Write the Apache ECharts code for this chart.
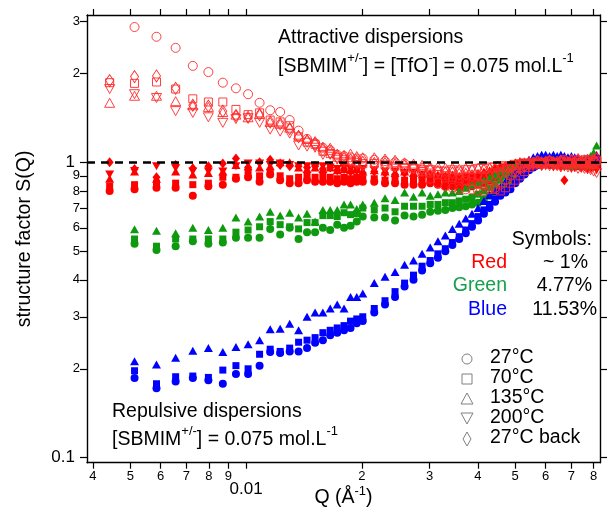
<!DOCTYPE html>
<html><head><meta charset="utf-8">
<script src="https://cdn.jsdelivr.net/npm/echarts@6.0.0/dist/echarts.min.js"></script>
<style>html,body{margin:0;padding:0;background:#fff}#c{width:611px;height:509px}</style>
</head><body><div id="c"></div><script>
// ---- data ----
const Q = [0.00442,0.00513,0.00585,0.00656,0.00727,0.00798,0.00870,0.00941,0.01012,0.01084,
0.01155,0.01226,0.01298,0.01369,0.01440,0.01511,0.01583,0.01654,0.01725,0.01797,
0.01868,0.01939,0.02010,0.02153,0.02296,0.02438,0.02581,0.02723,0.02866,0.03009,
0.03151,0.03294,0.03436,0.03579,0.03722,0.03864,0.04007,0.04149,0.04292,0.04435,
0.04577,0.04720,0.04862,0.05005,0.05148,0.05290,0.05433,0.05575,0.05718,0.05861,
0.06003,0.06146,0.06288,0.06431,0.06574,0.06716,0.06859,0.07001,0.07144,0.07287,
0.07429,0.07572,0.07714,0.07857,0.08000,0.08142];

// Red, ~1 %, attractive (open symbols)
const redOpen27 = [null,2.87,2.66,2.44,2.12,2.02,1.86,1.78,1.70,1.59,
1.50,1.48,1.39,1.28,1.20,1.16,1.12,1.10,1.06,1.05,
1.04,1.03,1.03,1.02,1.01,1.00,0.99,0.97,0.93,0.88,
0.85,0.83,0.82,0.81,0.81,0.81,0.80,0.80,0.81,0.82,
0.84,0.87,0.90,0.93,0.95,0.97,0.99,1.00,1.01,0.99,
1.00,1.01,1.00,0.99,1.01,1.02,1.00,0.99,1.00,1.01,
1.00,1.02,1.00,0.99,1.01,1.03];
const redOpen70 = [1.86,1.85,1.87,1.77,1.64,1.60,1.60,1.51,1.45,1.47,
1.39,1.37,1.33,1.22,1.17,1.15,1.09,1.07,1.04,1.02,
1.01,1.00,0.99,0.99,0.98,0.97,0.96,0.95,0.93,0.92,
0.91,0.90,0.89,0.88,0.87,0.86,0.85,0.84,0.83,0.81,
0.80,0.82,0.85,0.87,0.90,0.93,0.96,0.98,0.99,1.00,
0.99,1.01,1.00,0.98,1.00,1.01,0.99,1.00,1.02,1.00,
0.99,1.01,1.00,1.02,1.00,1.01];
const redOpen135 = [1.59,1.68,1.68,1.61,1.56,1.54,1.48,1.45,1.42,1.46,
1.37,1.35,1.31,1.24,1.20,1.18,1.13,1.12,1.07,1.06,
1.07,1.05,1.04,1.04,1.03,1.02,1.00,0.99,0.98,0.97,
0.97,0.96,0.96,0.95,0.96,0.95,0.96,0.95,0.96,0.96,
0.97,0.96,0.97,0.98,0.99,1.00,1.01,1.00,1.02,1.01,
1.00,1.02,1.01,1.00,1.02,1.01,1.00,1.03,1.01,1.00,
1.02,1.01,1.03,1.00,1.02,1.04];
const redOpen200 = [1.77,1.70,1.65,1.49,1.47,1.42,1.36,1.40,1.41,1.36,
1.29,1.27,1.25,1.14,1.13,1.12,1.06,1.06,1.02,1.00,
0.99,0.98,0.97,0.97,0.96,0.96,0.95,0.95,0.94,0.94,
0.93,0.93,0.94,0.93,0.94,0.94,0.95,0.95,0.96,0.96,
0.97,0.96,0.97,0.98,0.98,0.99,0.98,0.99,0.98,0.97,
0.98,0.97,0.98,0.97,0.96,0.97,0.96,0.97,0.96,0.95,
0.96,0.95,0.95,0.94,0.93,0.92];
const redOpen27back = [1.89,1.95,1.96,1.78,1.56,1.55,1.49,1.44,1.42,1.45,
1.37,1.35,1.30,1.22,1.18,1.15,1.10,1.08,1.04,1.03,
1.02,1.01,1.00,0.99,0.99,0.98,0.97,0.96,0.95,0.94,
0.93,0.92,0.92,0.91,0.91,0.90,0.90,0.89,0.90,0.91,
0.92,0.93,0.94,0.95,0.96,0.97,0.98,0.99,1.00,0.99,
1.00,1.01,0.99,1.00,1.01,1.00,0.99,1.01,1.00,1.02,
1.00,0.99,1.01,1.00,1.02,1.00];

// Red, ~1 %, repulsive (filled symbols)
const red27 = [0.80,0.81,0.82,0.82,0.77,0.83,0.84,0.88,0.89,0.86,
0.91,0.87,0.85,0.85,0.87,0.86,0.86,0.86,0.85,0.86,
0.85,0.86,0.86,0.86,0.85,0.85,0.84,0.84,0.84,0.85,
0.84,0.83,0.83,0.82,0.83,0.83,0.84,0.85,0.87,0.89,
0.92,0.94,0.95,0.96,0.97,0.98,0.99,0.98,0.99,1.00,
0.99,0.98,1.00,0.99,0.98,0.99,1.00,0.98,0.99,0.97,
0.99,0.98,0.97,0.99,0.98,0.97];
const red70 = [0.83,0.84,0.85,0.85,0.84,0.85,0.89,0.89,0.92,0.90,
0.92,0.90,0.88,0.89,0.90,0.89,0.90,0.89,0.88,0.89,
0.88,0.89,0.88,0.88,0.87,0.88,0.87,0.87,0.86,0.87,
0.86,0.86,0.85,0.85,0.86,0.86,0.87,0.88,0.90,0.92,
0.94,0.96,0.97,0.98,0.99,1.00,0.99,1.00,1.01,0.99,
1.00,0.99,1.01,1.00,0.99,1.00,0.98,1.00,0.99,1.00,
0.98,1.00,0.99,1.01,0.99,1.00];
const red135 = [0.88,0.93,0.88,0.93,0.91,0.92,0.93,0.98,0.97,0.96,
0.97,1.00,1.00,0.96,0.95,0.96,0.95,0.96,0.94,0.95,
0.94,0.95,0.93,0.94,0.93,0.92,0.93,0.92,0.91,0.92,
0.91,0.90,0.91,0.90,0.90,0.91,0.92,0.93,0.94,0.96,
0.97,0.98,0.99,1.00,1.01,1.00,1.01,1.02,1.00,1.01,
1.02,1.00,1.01,1.02,1.00,1.01,1.02,1.00,1.01,1.03,
1.01,1.02,1.00,1.02,1.04,1.06];
const red200 = [0.91,0.935,0.97,0.955,0.93,0.93,0.93,0.97,0.99,0.99,
0.98,0.99,0.98,0.97,0.97,0.96,0.97,0.96,0.95,0.96,
0.95,0.94,0.95,0.94,0.93,0.93,0.92,0.92,0.91,0.90,
0.89,0.89,0.88,0.88,0.89,0.88,0.89,0.90,0.91,0.93,
0.95,0.96,0.97,0.98,0.99,0.98,0.99,0.98,0.97,0.98,
0.97,0.98,0.96,0.97,0.98,0.96,0.97,0.95,0.96,0.97,
0.95,0.96,0.94,0.95,0.96,0.94];
const red27back = [1.00,0.95,0.89,0.98,0.955,0.97,0.99,1.03,0.96,1.00,
1.02,0.98,0.97,0.97,0.96,0.97,0.95,0.96,0.94,0.95,
0.93,0.94,0.92,0.93,0.92,0.91,0.92,0.90,0.90,0.89,
0.88,0.89,0.87,0.88,0.87,0.88,0.88,0.89,0.90,0.91,
0.93,0.95,0.96,0.97,0.98,0.99,1.00,0.99,1.00,0.98,
0.99,1.00,0.98,0.99,0.97,0.87,0.98,0.99,0.97,0.98,
0.99,0.97,0.98,0.96,0.97,0.98];

// Green, 4.77 %
const green135 = [null,0.594,0.586,0.575,0.60,0.59,0.60,0.65,0.63,0.655,
0.68,0.66,0.675,0.65,0.67,0.63,0.69,0.69,0.69,0.72,
0.72,0.695,0.72,0.73,0.755,0.745,0.79,0.765,0.79,0.77,
0.78,0.79,0.79,0.80,0.82,0.84,0.85,0.87,0.89,0.91,
0.93,0.94,0.96,0.99,0.98,0.99,1.00,1.01,1.00,1.02,
1.01,1.00,1.02,1.01,1.00,1.02,1.01,1.03,1.01,1.02,
1.00,1.03,1.02,1.05,1.08,1.14];
const green70 = [null,0.55,0.52,0.55,0.55,0.55,0.55,0.58,0.59,0.605,
0.63,0.615,0.605,0.595,0.625,0.625,0.66,0.66,0.655,0.675,
0.665,0.67,0.70,0.69,0.70,0.68,0.71,0.71,0.71,0.72,
0.72,0.73,0.73,0.74,0.75,0.76,0.78,0.80,0.82,0.84,
0.87,0.90,0.93,0.95,0.97,0.98,0.99,0.98,1.00,0.99,
1.00,0.99,1.01,0.99,1.00,0.98,1.00,0.99,1.01,0.99,
1.00,0.98,1.00,1.01,1.00,1.02];
const green27 = [null,0.53,0.505,0.52,0.54,0.53,0.535,0.555,0.555,0.555,
0.595,0.57,0.60,0.55,0.58,0.58,0.60,0.59,0.615,0.60,
0.61,0.63,0.655,0.65,0.65,0.635,0.66,0.655,0.665,0.68,
0.685,0.69,0.70,0.705,0.71,0.72,0.73,0.75,0.77,0.79,
0.81,0.84,0.87,0.90,0.93,0.95,0.97,0.98,0.99,0.98,
0.99,1.00,0.98,0.99,1.00,0.98,0.99,0.97,0.99,0.98,
0.99,1.00,0.98,0.99,0.98,1.00];

// Blue, 11.53 %
const blue135 = [null,0.212,0.207,0.218,0.23,0.235,0.228,0.237,0.242,0.25,
0.272,0.273,0.284,0.27,0.30,0.31,0.31,0.32,0.33,0.32,
0.35,0.35,0.36,0.39,0.41,0.425,0.45,0.465,0.49,0.515,
0.54,0.565,0.595,0.62,0.645,0.67,0.70,0.74,0.775,0.80,
0.825,0.86,0.89,0.93,0.96,0.99,1.02,1.04,1.05,1.06,
1.06,1.05,1.06,1.05,1.06,1.05,1.04,1.05,1.04,1.03,
1.02,1.02,1.01,1.02,1.03,1.05];
const blue70 = [null,0.197,0.178,0.188,0.189,0.187,0.198,0.205,0.20,0.224,
0.233,0.229,0.235,0.246,0.25,0.255,0.265,0.27,0.275,0.28,
0.29,0.295,0.30,0.32,0.34,0.365,0.39,0.415,0.445,0.465,
0.49,0.51,0.535,0.56,0.59,0.62,0.655,0.69,0.72,0.75,
0.78,0.80,0.82,0.86,0.89,0.92,0.95,0.97,0.99,1.00,
1.01,1.00,1.02,1.01,1.00,1.02,1.01,1.00,1.02,1.01,
1.00,1.01,1.00,1.02,1.01,1.03];
const blue27 = [null,0.186,0.172,0.181,0.186,0.183,0.178,0.192,0.192,0.205,
0.228,0.226,0.229,0.229,0.235,0.245,0.25,0.26,0.265,0.27,
0.275,0.285,0.29,0.31,0.33,0.35,0.38,0.40,0.43,0.455,
0.475,0.50,0.525,0.55,0.575,0.605,0.635,0.67,0.70,0.735,
0.77,0.79,0.81,0.85,0.88,0.91,0.94,0.96,0.98,0.99,
1.00,0.99,1.00,1.01,0.99,1.00,1.01,0.99,1.00,1.01,
0.99,1.00,1.01,1.00,1.02,1.01];

// ticks
const xTickValues = [0.004,0.005,0.006,0.007,0.008,0.009,0.01,0.02,0.03,0.04,0.05,0.06,0.07,0.08];
const xTickLabels = ['4','5','6','7','8','9','0.01','2','3','4','5','6','7','8'];
const yTickValues = [0.1,0.2,0.3,0.4,0.5,0.6,0.7,0.8,0.9,1,2,3];
const yTickLabels = ['0.1','2','3','4','5','6','7','8','9','1','2','3'];
const majorLabels = ['0.01','0.1','1'];
const temperatureLabels = ['27°C','70°C','135°C','200°C','27°C back'];

// ---- chart ----
const FONT = '"Liberation Sans", Arial, Helvetica, sans-serif';
const RED = '#ff0000', GREEN = '#0e990e', BLUE = '#0000ff', RED_OPEN = '#ff2a2a';

function nearestLabel(v, vals, labs) {
  let best = 0, bd = Infinity;
  vals.forEach((t, i) => { const d = Math.abs(Math.log(v) - Math.log(t)); if (d < bd) { bd = d; best = i; } });
  return labs[best];
}
function pts(vals) {
  return Q.map((q, i) => vals[i] == null ? null : [q, vals[i]]).filter(d => d);
}
function mk(name, vals, symbol, size, color, open, rot) {
  return {
    type: 'scatter', name, data: pts(vals), symbol, symbolSize: size, symbolRotate: rot || 0,
    silent: true, z: 2,
    itemStyle: open ? { color: 'rgba(0,0,0,0)', borderColor: color, borderWidth: 0.9, opacity: 1 }
                    : { color, borderWidth: 0, opacity: 1 },
    emphasis: { disabled: true }
  };
}

const series = [
  mk('Red 27°C', red27, 'circle', 8, RED, false),
  mk('Red 70°C', red70, 'rect', 7, RED, false),
  mk('Red 135°C', red135, 'triangle', [9, 8], RED, false),
  mk('Red 200°C', red200, 'triangle', [9, 8], RED, false, 180),
  mk('Red 27°C back', red27back, 'diamond', [8, 10], RED, false),
  mk('Green 27°C', green27, 'circle', 8, GREEN, false),
  mk('Green 70°C', green70, 'rect', 7, GREEN, false),
  mk('Green 135°C', green135, 'triangle', [9, 8], GREEN, false),
  mk('Blue 27°C', blue27, 'circle', 8, BLUE, false),
  mk('Blue 70°C', blue70, 'rect', 7, BLUE, false),
  mk('Blue 135°C', blue135, 'triangle', [9, 8], BLUE, false),
  mk('Red open 27°C', redOpen27, 'circle', 9, RED_OPEN, true),
  mk('Red open 70°C', redOpen70, 'rect', 8, RED_OPEN, true),
  mk('Red open 135°C', redOpen135, 'triangle', [10, 9], RED_OPEN, true),
  mk('Red open 200°C', redOpen200, 'triangle', [10, 9], RED_OPEN, true, 180),
  mk('Red open 27°C back', redOpen27back, 'diamond', [8, 12], RED_OPEN, true)
];
series[series.length - 1].markLine = {
  silent: true, symbol: ['none', 'none'], z: 10,
  label: { show: false },
  lineStyle: { color: '#000', type: [8, 6], width: 2.5 },
  emphasis: { disabled: true },
  data: [{ yAxis: 1 }]
};

const axLine = { show: true, onZero: false, lineStyle: { color: '#000', width: 1.4 } };
const richMajorX = { big: { fontSize: 17, fontFamily: FONT, color: '#000', padding: [11, 0, 0, 0] } };
const richMajorY = { big: { fontSize: 17, fontFamily: FONT, color: '#000', padding: [0, 5, 0, 0] } };

function xAxisDef(pos, showLabel) {
  return {
    type: 'log', logBase: 10, min: 0.00386, max: 0.0831, position: pos,
    axisLine: axLine, splitLine: { show: false }, minorTick: { show: false },
    nameMoveOverlap: false,
    axisTick: { show: true, inside: false, length: 6, customValues: xTickValues, lineStyle: { color: '#000', width: 1.2 } },
    axisLabel: {
      show: showLabel, customValues: xTickValues, margin: 7, color: '#000', fontSize: 13, fontFamily: FONT,
      formatter: v => { const l = nearestLabel(v, xTickValues, xTickLabels); return majorLabels.includes(l) ? '{big|' + l + '}' : l; },
      rich: richMajorX
    }
  };
}
function yAxisDef(pos, showLabel) {
  return {
    type: 'log', logBase: 10, min: 0.0962, max: 3.152, position: pos,
    axisLine: axLine, splitLine: { show: false }, minorTick: { show: false },
    nameMoveOverlap: false,
    axisTick: { show: true, inside: false, length: 7, customValues: yTickValues, lineStyle: { color: '#000', width: 1.2 } },
    axisLabel: {
      show: showLabel, customValues: yTickValues, margin: 7, color: '#000', fontSize: 13, fontFamily: FONT,
      formatter: v => { const l = nearestLabel(v, yTickValues, yTickLabels); return majorLabels.includes(l) ? '{big|' + l + '}' : l; },
      rich: richMajorY
    }
  };
}

const xb = xAxisDef('bottom', true);
xb.name = 'Q (Å{sup|-1})';
xb.nameLocation = 'middle';
xb.nameGap = 22;
xb.nameTextStyle = { fontSize: 19.5, fontFamily: FONT, color: '#000',
  rich: { sup: { fontSize: 13, fontFamily: FONT, color: '#000', verticalAlign: 'top', padding: [0, 0, 12, 0] } } };
const yl = yAxisDef('left', true);
yl.name = 'structure factor S(Q)';
yl.nameLocation = 'middle';
yl.nameRotate = 90;
yl.nameGap = 52;
yl.nameTextStyle = { fontSize: 19.5, fontFamily: FONT, color: '#000' };

const TS = 19.5;
const supRich = { sup: { fontSize: 13, fontFamily: FONT, fill: '#000', verticalAlign: 'top', padding: [0, 0, 18, 0] } };
function txt(x, y, text, color, align, rich) {
  return { type: 'text', x, y, silent: true, z: 100,
    style: { text, fill: color || '#000', fontSize: TS, fontFamily: FONT,
      align: align || 'left', textAlign: align || 'left', verticalAlign: 'middle', textVerticalAlign: 'middle', rich: rich } };
}
const gray = '#808080';
const legendSymbols = [
  { type: 'circle', shape: { cx: 467, cy: 359, r: 5 } },
  { type: 'rect', shape: { x: 462, y: 374, width: 10, height: 10 } },
  { type: 'polygon', shape: { points: [[467, 393], [473, 404], [461, 404]] } },
  { type: 'polygon', shape: { points: [[461, 413], [473, 413], [467, 424]] } },
  { type: 'polygon', shape: { points: [[467, 432], [471, 439], [467, 446], [463, 439]] } }
].map(s => Object.assign(s, { silent: true, z: 100, style: { fill: 'none', stroke: gray, lineWidth: 1 } }));

const graphics = [
  txt(278, 38, 'Attractive dispersions'),
  txt(278, 67, '[SBMIM{sup|+/-}] = [TfO{sup|-}] = 0.075 mol.L{sup|-1}', '#000', 'left', supRich),
  txt(112, 412, 'Repulsive dispersions'),
  txt(112, 440, '[SBMIM{sup|+/-}] = 0.075 mol.L{sup|-1}', '#000', 'left', supRich),
  txt(592, 240, 'Symbols:', '#000', 'right'),
  txt(507, 263, 'Red', RED, 'right'),
  txt(588, 263, '~ 1%', '#000', 'right'),
  txt(507, 286, 'Green', '#15a04a', 'right'),
  txt(592, 286, '4.77%', '#000', 'right'),
  txt(507, 310, 'Blue', BLUE, 'right'),
  txt(597, 310, '11.53%', '#000', 'right')
].concat(temperatureLabels.map((t, i) => txt(490, 358 + i * 19.8, t)), legendSymbols);

const chart = echarts.init(document.getElementById('c'), null, { renderer: 'canvas' });
chart.setOption({
  animation: false,
  backgroundColor: '#fff',
  textStyle: { fontFamily: FONT },
  grid: { left: 87, right: 11, top: 15, bottom: 46.3, containLabel: false, outerBoundsMode: 'none' },
  xAxis: [xb, xAxisDef('top', false)],
  yAxis: [yl, yAxisDef('right', false)],
  series: series,
  graphic: graphics
});
</script></body></html>
